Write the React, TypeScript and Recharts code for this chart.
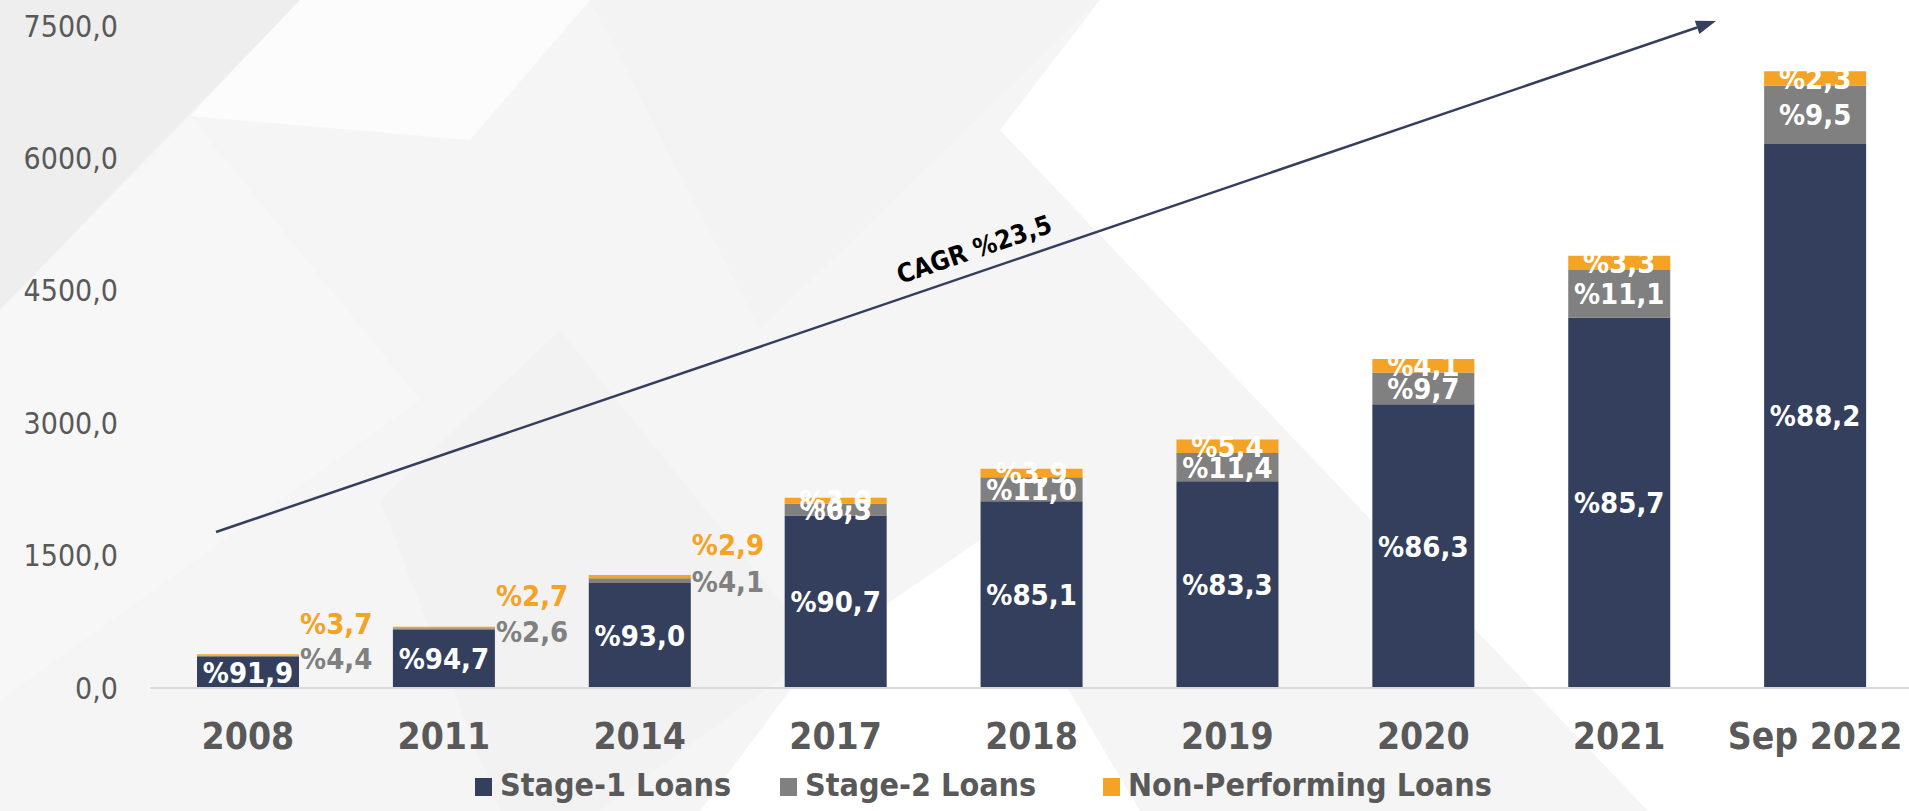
import React from 'react'
import { BarChart, Bar, XAxis, YAxis, LabelList } from 'recharts'

// loan book, values
const periods = ['2008', '2011', '2014', '2017', '2018', '2019', '2020', '2021', 'Sep 2022']
const stage1 = [351, 658, 1190, 1955, 2115, 2342, 3214, 4194, 6162]
const stage2 = [17, 18, 52, 136, 273, 321, 361, 543, 664]
const nonPerforming = [14, 19, 37, 65, 97, 152, 153, 161, 161]

// shares printed on the segments
const stage1Pct = ['%91,9', '%94,7', '%93,0', '%90,7', '%85,1', '%83,3', '%86,3', '%85,7', '%88,2']
const stage2Pct = ['%4,4', '%2,6', '%4,1', '%6,3', '%11,0', '%11,4', '%9,7', '%11,1', '%9,5']
const nplPct = ['%3,7', '%2,7', '%2,9', '%3,0', '%3,9', '%5,4', '%4,1', '%3,3', '%2,3']

const yTicks = [0, 1500, 3000, 4500, 6000, 7500]
const cagrLabel = 'CAGR %23,5'

const NAVY = '#333F5C'
const GREY = '#808080'
const ORANGE = '#F4A324'
const TEXT = '#595959'
const FONT = '"DejaVu Sans Condensed", "DejaVu Sans", sans-serif'

const series = [
  { key: 'stage1', label: 'stage1Pct', name: 'Stage-1 Loans', color: NAVY },
  { key: 'stage2', label: 'stage2Pct', name: 'Stage-2 Loans', color: GREY },
  { key: 'npl', label: 'nplPct', name: 'Non-Performing Loans', color: ORANGE },
]

const data = periods.map((p, i) => ({
  name: p,
  stage1: stage1[i],
  stage2: stage2[i],
  npl: nonPerforming[i],
  stage1Pct: stage1Pct[i],
  stage2Pct: stage2Pct[i],
  nplPct: nplPct[i],
}))

// first three bars are too thin, their small shares sit to the right
const OUTSIDE = 3

const makeLabel = (kind: 'stage1' | 'stage2' | 'npl') => (props: any) => {
  const { x, y, width, height, index, value } = props
  const common = { fontFamily: FONT, fontWeight: 700, fontSize: 29 }
  if (kind !== 'stage1' && index < OUTSIDE) {
    const cy = kind === 'stage2' ? y + 3 : y - 31
    return (
      <text x={x + width + 1} y={cy} dy="0.36em" textAnchor="start" fill={kind === 'stage2' ? GREY : ORANGE} {...common}>
        {value}
      </text>
    )
  }
  return (
    <text x={x + width / 2} y={y + height / 2} dy="0.36em" textAnchor="middle" fill="#fff" {...common}>
      {value}
    </text>
  )
}

const Background = () => (
  <svg width={1909} height={811} style={{ position: 'absolute', left: 0, top: 0 }}>
    <rect width={1909} height={811} fill="#F5F5F5" />
    <polygon points="0,0 300,0 0,310" fill="#EEEEEE" />
    <polygon points="300,0 590,0 470,140 190,116" fill="#FCFCFC" />
    <polygon points="590,0 1100,0 760,330" fill="#F3F3F3" />
    <polygon points="0,310 190,116 420,400 0,700" fill="#F7F7F7" />
    <polygon points="380,500 560,330 820,650 600,811 500,811" fill="#F2F2F2" />
    <polygon points="820,650 980,540 1140,811 700,811" fill="#FFFFFF" />
    <polygon points="1100,0 1909,0 1909,811 1648,811 1000,130" fill="#FFFFFF" />
  </svg>
)

// CAGR arrow, in page pixels
const A = { x1: 216, y1: 532, x2: 1716, y2: 21 }

const Arrow = () => {
  const dx = A.x2 - A.x1
  const dy = A.y2 - A.y1
  const len = Math.hypot(dx, dy)
  const ux = dx / len
  const uy = dy / len
  const bx = A.x2 - ux * 20
  const by = A.y2 - uy * 20
  const angle = (Math.atan2(dy, dx) * 180) / Math.PI
  return (
    <svg width={1909} height={811} style={{ position: 'absolute', left: 0, top: 0, pointerEvents: 'none' }}>
      <line x1={A.x1} y1={A.y1} x2={bx} y2={by} stroke={NAVY} strokeWidth={2.5} />
      <polygon
        points={`${A.x2},${A.y2} ${bx - uy * 7},${by + ux * 7} ${bx + uy * 7},${by - ux * 7}`}
        fill={NAVY}
      />
      <text
        x={974}
        y={249}
        dy="0.36em"
        textAnchor="middle"
        transform={`rotate(${angle} 974 249)`}
        fontFamily={FONT}
        fontWeight={700}
        fontSize={26}
        fill="#000"
      >
        {cagrLabel}
      </text>
    </svg>
  )
}

const legendLeft = [475, 780, 1103]

const LegendRow = () => (
  <div style={{ position: 'absolute', left: 0, top: 766, fontFamily: FONT, fontWeight: 700, fontSize: 32, color: TEXT }}>
    {series.map((s, i) => (
      <div
        key={s.key}
        style={{ position: 'absolute', left: legendLeft[i], display: 'flex', alignItems: 'center', whiteSpace: 'nowrap' }}
      >
        <span style={{ width: 17, height: 18, background: s.color, marginRight: 8, marginTop: 4 }} />
        <span>{s.name}</span>
      </div>
    ))}
  </div>
)

export default function App() {
  return (
    <div style={{ position: 'fixed', left: 0, top: 0, width: 1909, height: 811, overflow: 'hidden', background: '#fff' }}>
      <Background />
      <div style={{ position: 'absolute', left: 0, top: 0 }}>
        <BarChart width={1914} height={811} data={data} margin={{ top: 26, right: 1, left: 0, bottom: 0 }} barCategoryGap="24%">
          <XAxis
            dataKey="name"
            height={123}
            tickLine={false}
            tickSize={0}
            tickMargin={35}
            axisLine={{ stroke: '#D9D9D9', strokeWidth: 2 }}
            interval={0}
            tick={{ fontFamily: FONT, fontWeight: 700, fontSize: 37, fill: TEXT }}
          />
          <YAxis
            width={150}
            domain={[0, 7500]}
            ticks={yTicks}
            axisLine={false}
            tickLine={false}
            tickSize={0}
            tickMargin={32}
            tickFormatter={(v: number) => v.toFixed(1).replace('.', ',')}
            tick={{ fontFamily: FONT, fontSize: 30, fill: TEXT }}
          />
          {series.map((s) => (
            <Bar key={s.key} dataKey={s.key} name={s.name} stackId="a" fill={s.color} isAnimationActive={false}>
              <LabelList dataKey={s.label} content={makeLabel(s.key as any)} />
            </Bar>
          ))}
        </BarChart>
      </div>
      <Arrow />
      <LegendRow />
    </div>
  )
}
